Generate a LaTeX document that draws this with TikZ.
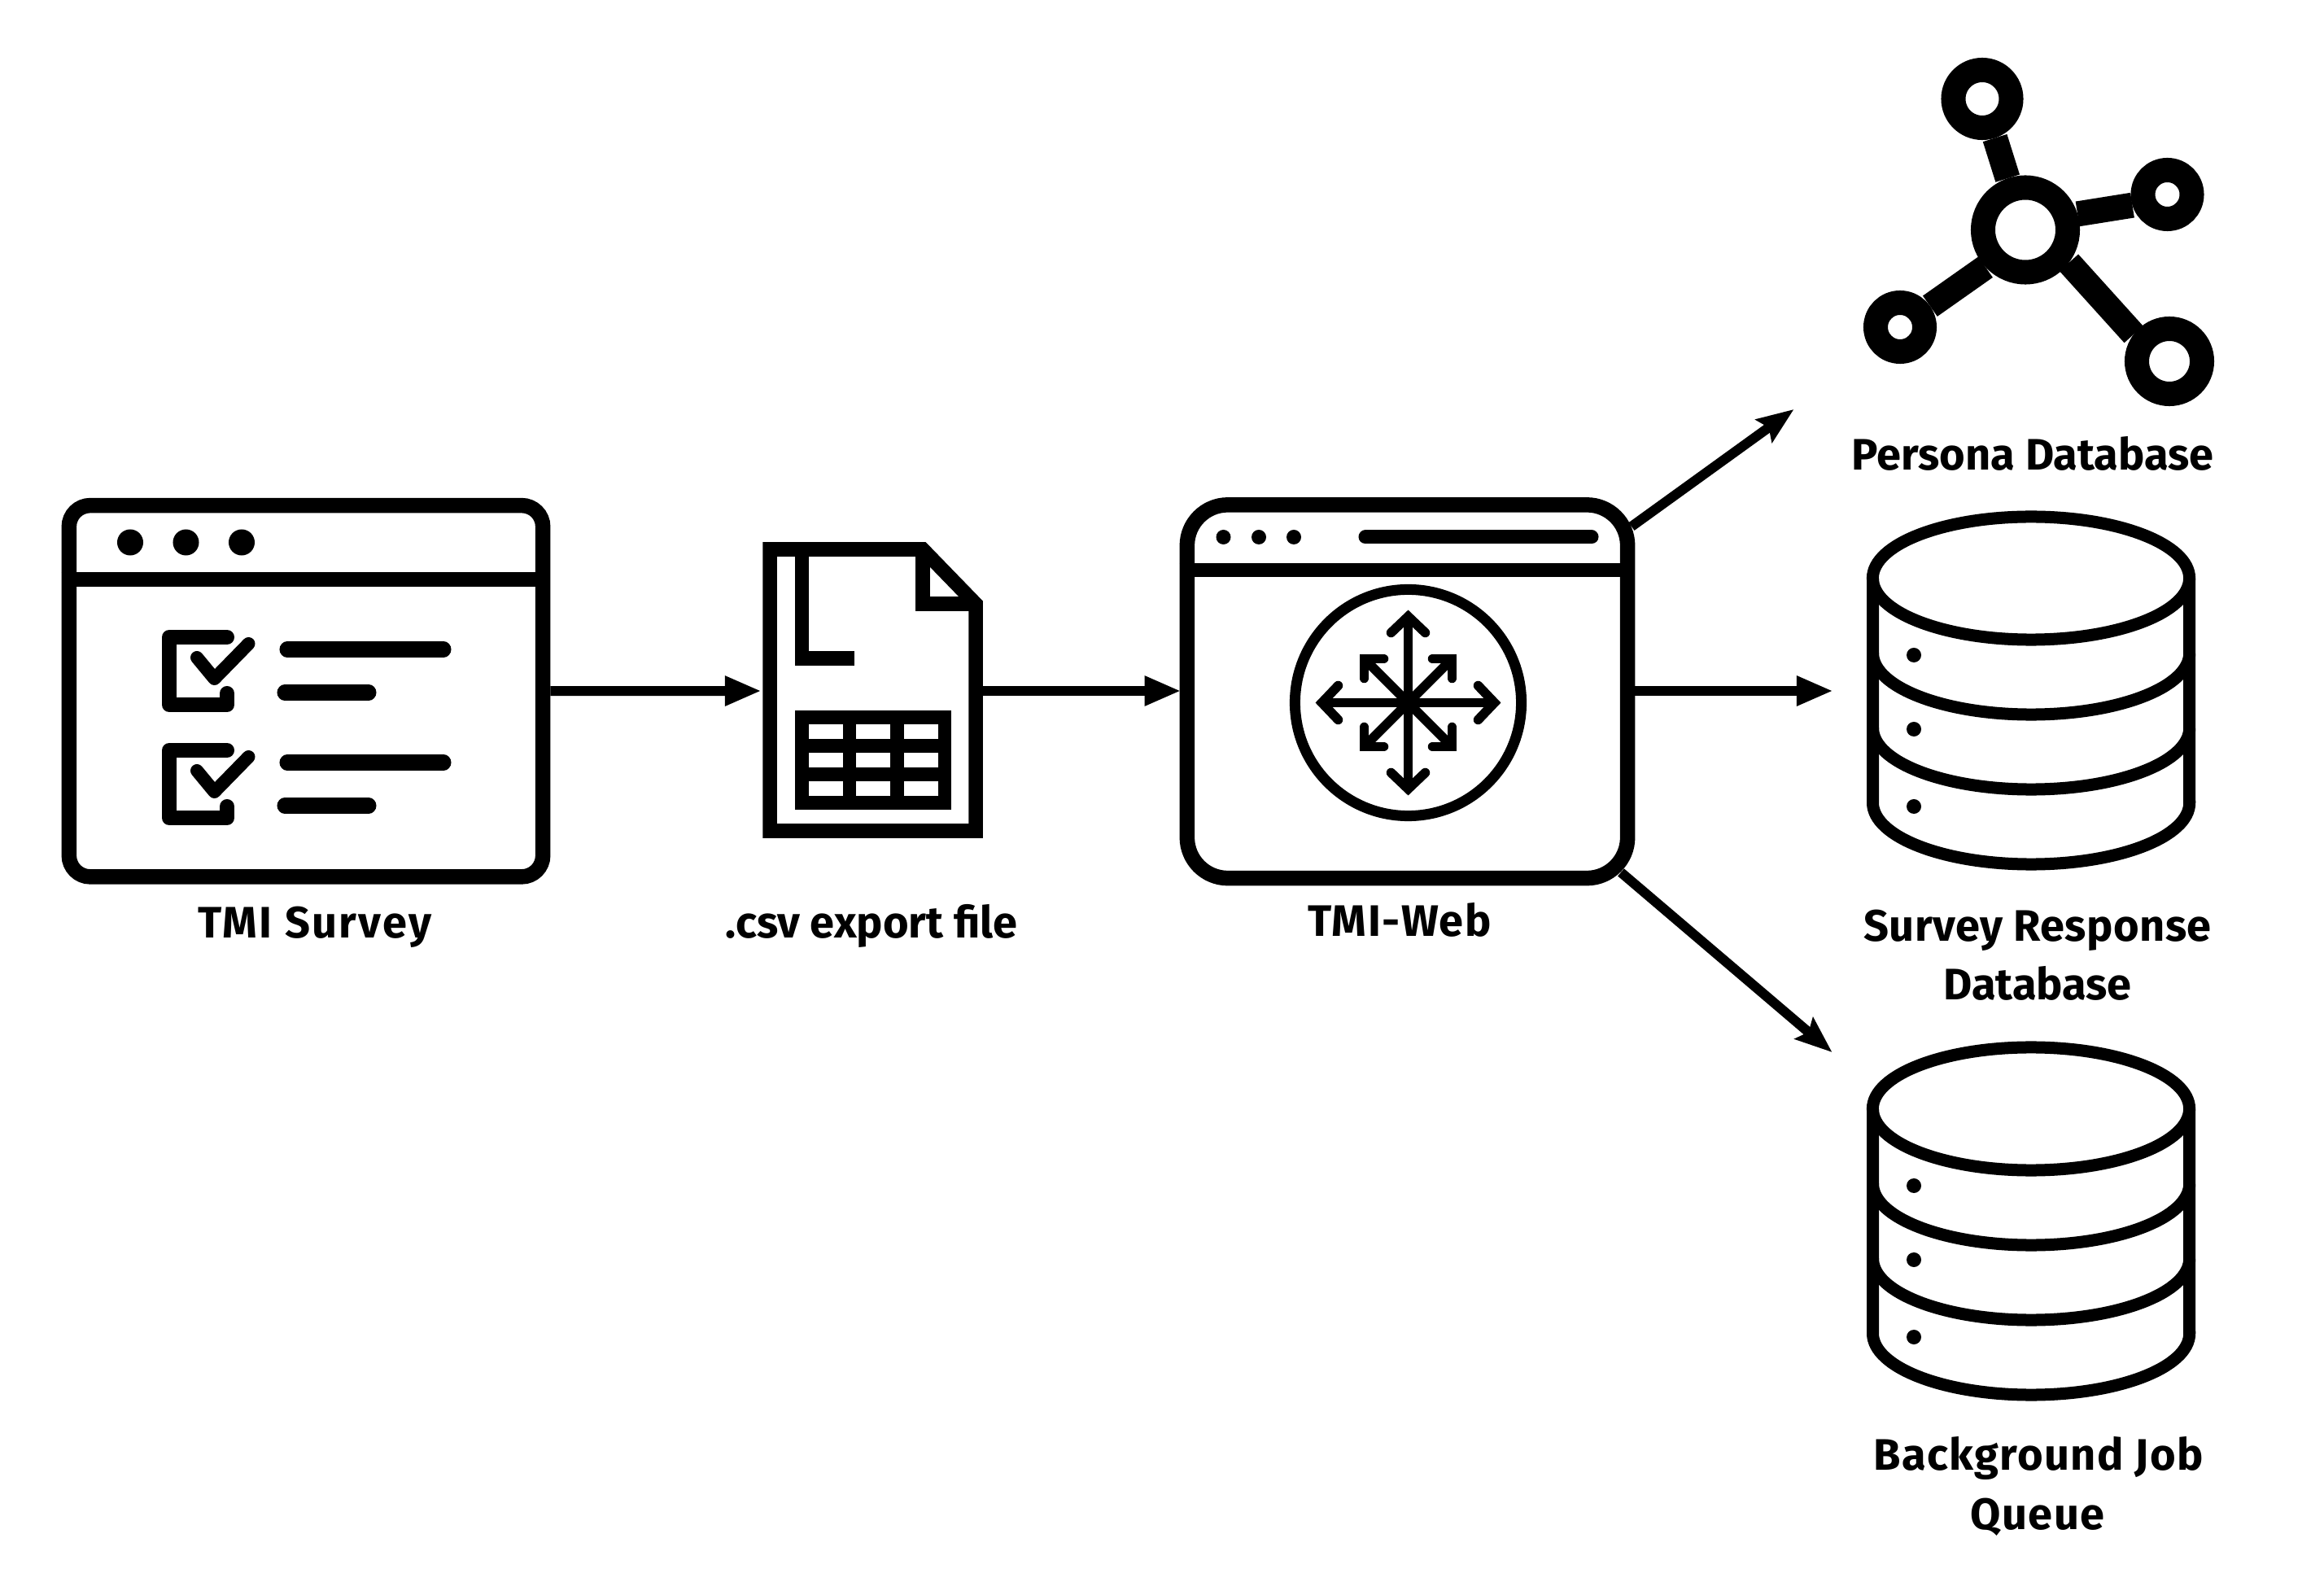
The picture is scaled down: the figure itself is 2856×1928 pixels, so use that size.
\documentclass[tikz,border=0pt]{standalone}
\usepackage{fontspec}
\setmainfont{Fira Sans}
\usetikzlibrary{arrows.meta,shapes.geometric}
\tikzset{
  window/.style = {draw, rectangle, line width = 0.185cm, inner sep = 0pt},
  flow/.style = {line width = 0.12cm, -{Triangle[length = 0.45cm, width = 0.34cm]}},
  flowb/.style = {line width = 0.12cm, -{Stealth[length = 0.45cm, width = 0.34cm, inset = 0.07cm]}},
  hubnode/.style = {draw, circle, line width = 0.30cm, inner sep = 0pt},
  thick line/.style = {line width = 0.18cm, line cap = round},
  spoke/.style = {line width = 0.31cm},
  db/.style = {line width = 0.15cm},
  caption/.style = {font = \fontsize{15.4}{20.5}\selectfont\bfseries, align = center, inner sep = 0pt, anchor = base}
}

\begin{document}
\begin{tikzpicture}[x = 0.01cm, y = -0.01cm]
        \useasboundingbox (0,0) rectangle (2856,1928);

        % Nodes
        \node [window, rounded corners = 0.26cm, minimum width = 5.82cm, minimum height = 4.56cm] (survey) at (376,849.25) {};
        \node [inner sep = 0pt, outer sep = 0pt, minimum width = 2.71cm, minimum height = 3.635cm] (csv) at (1072.5,849) {};
        \node [window, rounded corners = 0.50cm, minimum width = 5.41cm, minimum height = 4.585cm] (web) at (1729.5,849.75) {};
        \node [hubnode, minimum size = 1.04cm] (hub) at (2489,282.5) {};
        \node [hubnode, minimum size = 0.71cm] (top) at (2436,121.5) {};
        \node [hubnode, minimum size = 0.60cm] (right) at (2663.5,239) {};
        \node [hubnode, minimum size = 0.60cm] (left) at (2335,402) {};
        \node [hubnode, minimum size = 0.80cm] (low) at (2666,444) {};
        \node [ellipse, draw, db, inner sep = 0pt, minimum width = 3.89cm, minimum height = 1.51cm] (response) at (2496,710.5) {};
        \node [ellipse, draw, db, inner sep = 0pt, minimum width = 3.89cm, minimum height = 1.51cm] (queue) at (2496,1362.5) {};

        \coordinate (webup) at (2005,647);
        \coordinate (webdown) at (1992,1072);
        \coordinate (personain) at (2204.5,503);
        \coordinate (responsein) at (2253,849);
        \coordinate (queuein) at (2251.5,1293);

        % Survey window
        \draw [line width = 0.18cm] (survey.west |- 0,712.5) -- (survey.east |- 0,712.5);
        \foreach \x in {160,228.5,297} {
            \fill (\x,666.5) circle [radius = 0.16cm];
        }
        \foreach \y in {0,139} {
            \draw [thick line, line join = round] (279,783+\y) -- (208,783+\y) -- (208,866+\y) -- (279,866+\y) -- (279,852+\y);
            \draw [line width = 0.16cm, line cap = round, line join = round] (242,808+\y) -- (263.5,834+\y) -- (305.5,791+\y);
            \draw [line width = 0.19cm, line cap = round] (353,798+\y) -- (545,798+\y);
            \draw [line width = 0.19cm, line cap = round] (350,851+\y) -- (453,851+\y);
        }

        % Export file
        \draw [line width = 0.175cm, miter limit = 10] (946,675) -- (1134,675) -- (1199,742) -- (1199,1021) -- (946,1021) -- cycle;
        \draw [line width = 0.175cm] (1134,675) -- (1134,742) -- (1199,742);
        \draw [line width = 0.175cm] (985.5,675) -- (985.5,809) -- (1050,809);
        \fill (977,873) rectangle (1169,995);
        \foreach \x in {994,1052,1111} {
            \foreach \y in {890,925,960} {
                \fill [white] (\x,\y) rectangle (\x+42,\y+18);
            }
        }

        % Web window
        \draw [line width = 0.17cm] (web.west |- 0,700.5) -- (web.east |- 0,700.5);
        \foreach \x in {1503.5,1547,1590} {
            \fill (\x,660) circle [radius = 0.09cm];
        }
        \draw [line width = 0.17cm, line cap = round] (1678,660) -- (1956,660);
        \draw [line width = 0.13cm] (1730.5,863.5) circle [radius = 1.39cm];
        \begin{scope}[shift = {(1730.5,863.5)}, line width = 0.115cm]
            \foreach \a in {0,90,180,270} {
                \draw [rotate = \a] (0,0) -- (0,-104);
                \draw [rotate = \a, line cap = round] (-21,-86) -- (0,-106) -- (21,-86);
                \draw [rotate = \a] (0,0) -- (-52,-52);
                \draw [rotate = \a, line cap = round] (-30,-54) -- (-54,-54) -- (-54,-30);
            }
        \end{scope}

        % Persona spokes
        \draw [spoke] (hub.109) -- (top.288.5);
        \draw [spoke] (hub.17) -- (right.197);
        \draw [spoke] (hub.223) -- (left.35);
        \draw [spoke] (hub.323.4) -- (low.143.6);

        % Databases
        \foreach \y in {0,652} {
            \draw [db] (2301.5,710.5+\y) -- (2301.5,986.5+\y) arc [start angle = 180, end angle = 360, x radius = 1.945cm, y radius = 0.755cm] -- (2690.5,710.5+\y);
            \foreach \z in {802.5,894.5} {
                \draw [db] (2301.5,\z+\y) arc [start angle = 180, end angle = 360, x radius = 1.945cm, y radius = 0.755cm];
            }
            \fill (2352,805+\y) circle [radius = 0.09cm];
            \fill (2352,896+\y) circle [radius = 0.09cm];
            \fill (2352,991+\y) circle [radius = 0.09cm];
        }

        % Lines
        \draw [flow, shorten > = 0.01cm] (survey.east) -- (csv.west);
        \draw [flow, shorten > = -0.02cm] (csv.east) -- (web.west |- csv.east);
        \draw [flow] (web.east |- responsein) -- (responsein);
        \draw [flowb] (webup) -- (personain);
        \draw [flowb] (webdown) -- (queuein);

        % Labels
        \node [caption] (surveytext) at (387,1152.5) {\addfontfeature{LetterSpace=4.4}TMI Survey};
        \node [caption] (csvtext) at (1071,1152.5) {.csv export file};
        \node [caption] (webtext) at (1720,1150.5) {\addfontfeature{LetterSpace=2.8}TMI-Web};
        \node [caption] (personatext) at (2498,577.5) {Persona Database};
        \node [caption] (responsetext) at (2504,1156.5) {\addfontfeature{LetterSpace=0.9}Survey Response};
        \node [caption] (responsetext2) at (2504,1228.5) {Database};
        \node [caption] (queuetext) at (2505,1806) {\addfontfeature{LetterSpace=2.6}Background Job};
        \node [caption] (queuetext2) at (2504,1879.5) {\addfontfeature{LetterSpace=2.6}Queue};

    \end{tikzpicture}
\end{document}
